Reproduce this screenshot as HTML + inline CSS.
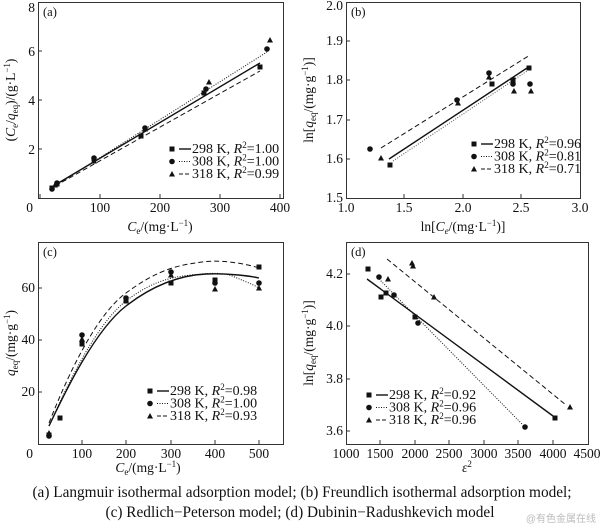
<!DOCTYPE html>
<html><head><meta charset="utf-8"><style>
body{margin:0;background:#fff;width:600px;height:527px;overflow:hidden}
svg text{font-family:"Liberation Serif",serif;fill:#111}
</style></head><body>
<svg width="600" height="527" viewBox="0 0 600 527" xmlns="http://www.w3.org/2000/svg">
<defs>
<g id="sq"><rect x="-2.5" y="-2.5" width="5" height="5" fill="#111"/></g>
<g id="ci"><circle r="2.8" fill="#111"/></g>
<g id="tr"><polygon points="0,-3 3,2.5 -3,2.5" fill="#111"/></g>
</defs>
<g stroke="#333" stroke-width="1" fill="none">
<rect x="38.5" y="2.5" width="245" height="196"/>
<rect x="346.5" y="2.5" width="234" height="196"/>
<rect x="38.5" y="242.5" width="245" height="202"/>
<rect x="346.5" y="242.5" width="242" height="202"/>
</g>
<g stroke="#333" stroke-width="1">
<path d="M40,198v-4M100,198v-4M160,198v-4M220,198v-4M280,198v-4M38,51h4M38,100h4M38,149h4"/>
<path d="M404,198v-4M463,198v-4M521,198v-4M346,41h4M346,80h4M346,120h4M346,159h4"/>
<path d="M82,444v-4M126,444v-4M171,444v-4M215,444v-4M259,444v-4M38,392h4M38,340h4M38,288h4"/>
<path d="M380,444v-4M415,444v-4M449,444v-4M484,444v-4M518,444v-4M553,444v-4M346,431h4M346,379h4M346,326h4M346,274h4"/>
</g>
<g font-size="13.5" text-anchor="middle">
<text x="35" y="12" text-anchor="end">8</text><text x="35" y="56" text-anchor="end">6</text><text x="35" y="105" text-anchor="end">4</text><text x="35" y="154" text-anchor="end">2</text><text x="33" y="212" text-anchor="end">0</text>
<text x="100" y="212">100</text><text x="160" y="212">200</text><text x="220" y="212">300</text><text x="280" y="212">400</text>
<text x="343" y="10" text-anchor="end">2.0</text><text x="343" y="45" text-anchor="end">1.9</text><text x="343" y="84" text-anchor="end">1.8</text><text x="343" y="124" text-anchor="end">1.7</text><text x="343" y="163" text-anchor="end">1.6</text><text x="343" y="202" text-anchor="end">1.5</text>
<text x="346" y="212">1.0</text><text x="404" y="212">1.5</text><text x="463" y="212">2.0</text><text x="521" y="212">2.5</text><text x="580" y="212">3.0</text>
<text x="35" y="292" text-anchor="end">60</text><text x="35" y="344" text-anchor="end">40</text><text x="35" y="396" text-anchor="end">20</text><text x="33" y="458" text-anchor="end">0</text>
<text x="82" y="458">100</text><text x="126" y="458">200</text><text x="171" y="458">300</text><text x="215" y="458">400</text><text x="259" y="458">500</text>
<text x="343" y="278" text-anchor="end">4.2</text><text x="343" y="330" text-anchor="end">4.0</text><text x="343" y="383" text-anchor="end">3.8</text><text x="343" y="435" text-anchor="end">3.6</text>
<text x="346" y="458">1000</text><text x="380" y="458">1500</text><text x="415" y="458">2000</text><text x="449" y="458">2500</text><text x="484" y="458">3000</text><text x="518" y="458">3500</text><text x="553" y="458">4000</text><text x="587" y="458">4500</text>
</g>
<g font-size="13.5" text-anchor="middle">
<text x="160" y="231"><tspan font-style="italic">C</tspan><tspan font-size="9" dy="3">e</tspan><tspan dy="-3">/(mg·L</tspan><tspan font-size="9" dy="-5">−1</tspan><tspan dy="5">)</tspan></text>
<text x="463" y="231">ln[<tspan font-style="italic">C</tspan><tspan font-size="9" dy="3" font-style="italic">e</tspan><tspan dy="-3">/(mg·L</tspan><tspan font-size="9" dy="-5">−1</tspan><tspan dy="5">)]</tspan></text>
<text x="148" y="472"><tspan font-style="italic">C</tspan><tspan font-size="9" dy="3">e</tspan><tspan dy="-3">/(mg·L</tspan><tspan font-size="9" dy="-5">−1</tspan><tspan dy="5">)</tspan></text>
<text x="467" y="472" font-style="italic">ε<tspan font-size="9" dy="-5" font-style="normal">2</tspan></text>
<text transform="translate(15,100) rotate(-90)">(<tspan font-style="italic">C</tspan><tspan font-size="9" dy="3">e</tspan><tspan dy="-3">/</tspan><tspan font-style="italic">q</tspan><tspan font-size="9" dy="3">eq</tspan><tspan dy="-3">)/(g·L</tspan><tspan font-size="9" dy="-5">−1</tspan><tspan dy="5">)</tspan></text>
<text transform="translate(313,100) rotate(-90)">ln[<tspan font-style="italic">q</tspan><tspan font-size="9" dy="3">eq</tspan><tspan dy="-3">/(mg·g</tspan><tspan font-size="9" dy="-5">−1</tspan><tspan dy="5">)]</tspan></text>
<text transform="translate(15,343) rotate(-90)"><tspan font-style="italic">q</tspan><tspan font-size="9" dy="3">eq</tspan><tspan dy="-3">/(mg·g</tspan><tspan font-size="9" dy="-5">−1</tspan><tspan dy="5">)</tspan></text>
<text transform="translate(313,343) rotate(-90)">ln[<tspan font-style="italic">q</tspan><tspan font-size="9" dy="3">eq</tspan><tspan dy="-3">/(mg·g</tspan><tspan font-size="9" dy="-5">−1</tspan><tspan dy="5">)]</tspan></text>
</g>
<g font-size="12.5"><text x="43" y="16">(a)</text><text x="351" y="16">(b)</text><text x="43" y="256">(c)</text><text x="351" y="256">(d)</text></g>
<g fill="none" stroke="#111">
<path d="M55,185L260,63" stroke-width="1.4"/>
<path d="M55,186L267,52" stroke-dasharray="1,1.5" stroke-width="1"/>
<path d="M55,186L260,71" stroke-dasharray="5,3" stroke-width="1"/>
<path d="M389,159L527,68" stroke-width="1.4"/>
<path d="M393,161L527,71" stroke-dasharray="1,1.5" stroke-width="1" stroke="#555"/>
<path d="M381,148L530,55" stroke-dasharray="5,3" stroke-width="1"/>
<path d="M49,426C65,392 95,330 126,306S185,275 206,274S250,276 259,278" stroke-width="1.4"/>
<path d="M49,426C65,390 95,325 126,301S180,276 202,274S230,275 237,278S252,284 259,288" stroke-dasharray="1,1.5" stroke-width="1"/>
<path d="M49,423C62,390 92,318 126,293S180,265 202,262S250,265 259,268" stroke-dasharray="5,3" stroke-width="1"/>
<path d="M367,279L553,416" stroke-width="1.4"/>
<path d="M379,279L522,424" stroke-dasharray="1,1.5" stroke-width="1"/>
<path d="M387,259L566,405" stroke-dasharray="5,3" stroke-width="1"/>
</g>
<g>
<use href="#sq" x="52" y="188"/><use href="#sq" x="57" y="184"/><use href="#sq" x="94" y="159"/><use href="#sq" x="141" y="136"/><use href="#sq" x="204" y="93"/><use href="#sq" x="260" y="67"/>
<use href="#ci" x="52" y="189"/><use href="#ci" x="57" y="183"/><use href="#ci" x="94" y="158"/><use href="#ci" x="145" y="128"/><use href="#ci" x="206" y="89"/><use href="#ci" x="267" y="49"/>
<use href="#tr" x="55" y="185"/><use href="#tr" x="94" y="161"/><use href="#tr" x="145" y="129"/><use href="#tr" x="209" y="82"/><use href="#tr" x="270" y="40"/>
<use href="#sq" x="390" y="165"/><use href="#sq" x="492" y="84"/><use href="#sq" x="513" y="82"/><use href="#sq" x="513" y="80"/><use href="#sq" x="529" y="68"/>
<use href="#ci" x="370" y="149"/><use href="#ci" x="457" y="100"/><use href="#ci" x="489" y="73"/><use href="#ci" x="513" y="84"/><use href="#ci" x="530" y="84"/>
<use href="#tr" x="381" y="158"/><use href="#tr" x="458" y="103"/><use href="#tr" x="489" y="77"/><use href="#tr" x="514" y="91"/><use href="#tr" x="531" y="91"/>
<use href="#sq" x="49" y="435"/><use href="#sq" x="60" y="418"/><use href="#sq" x="82" y="344"/><use href="#sq" x="126" y="301"/><use href="#sq" x="171" y="283"/><use href="#sq" x="215" y="280"/><use href="#sq" x="259" y="267"/>
<use href="#ci" x="49" y="436"/><use href="#ci" x="82" y="335"/><use href="#ci" x="126" y="298"/><use href="#ci" x="171" y="272"/><use href="#ci" x="215" y="283"/><use href="#ci" x="259" y="283"/>
<use href="#tr" x="49" y="433"/><use href="#tr" x="82" y="339"/><use href="#tr" x="126" y="300"/><use href="#tr" x="171" y="275"/><use href="#tr" x="215" y="289"/><use href="#tr" x="259" y="288"/>
<use href="#sq" x="368" y="269"/><use href="#sq" x="381" y="297"/><use href="#sq" x="386" y="293"/><use href="#sq" x="415" y="317"/><use href="#sq" x="555" y="418"/>
<use href="#ci" x="379" y="277"/><use href="#ci" x="394" y="295"/><use href="#ci" x="418" y="323"/><use href="#ci" x="525" y="427"/>
<use href="#tr" x="388" y="279"/><use href="#tr" x="412" y="263"/><use href="#tr" x="413" y="266"/><use href="#tr" x="434" y="297"/><use href="#tr" x="570" y="407"/>
</g>
<g font-size="14">
<g transform="translate(170,149)">
<use href="#sq" x="2" y="0"/><path d="M9,0h12" stroke="#111" stroke-width="1.4"/><text x="22" y="4">298 K, <tspan font-style="italic">R</tspan><tspan font-size="9" dy="-5">2</tspan><tspan dy="5">=1.00</tspan></text>
<use href="#ci" x="2" y="12.5"/><path d="M9,12.5h12" stroke="#111" stroke-dasharray="1,1.5"/><text x="22" y="16.5">308 K, <tspan font-style="italic">R</tspan><tspan font-size="9" dy="-5">2</tspan><tspan dy="5">=1.00</tspan></text>
<use href="#tr" x="2" y="25"/><path d="M9,25h12" stroke="#111" stroke-dasharray="4,2"/><text x="22" y="29">318 K, <tspan font-style="italic">R</tspan><tspan font-size="9" dy="-5">2</tspan><tspan dy="5">=0.99</tspan></text>
</g>
<g transform="translate(472,144)">
<use href="#sq" x="2" y="0"/><path d="M9,0h12" stroke="#111" stroke-width="1.4"/><text x="22" y="4">298 K, <tspan font-style="italic">R</tspan><tspan font-size="9" dy="-5">2</tspan><tspan dy="5">=0.96</tspan></text>
<use href="#ci" x="2" y="12.5"/><path d="M9,12.5h12" stroke="#111" stroke-dasharray="1,1.5"/><text x="22" y="16.5">308 K, <tspan font-style="italic">R</tspan><tspan font-size="9" dy="-5">2</tspan><tspan dy="5">=0.81</tspan></text>
<use href="#tr" x="2" y="25"/><path d="M9,25h12" stroke="#111" stroke-dasharray="4,2"/><text x="22" y="29">318 K, <tspan font-style="italic">R</tspan><tspan font-size="9" dy="-5">2</tspan><tspan dy="5">=0.71</tspan></text>
</g>
<g transform="translate(148,391)">
<use href="#sq" x="2" y="0"/><path d="M9,0h12" stroke="#111" stroke-width="1.4"/><text x="22" y="4">298 K, <tspan font-style="italic">R</tspan><tspan font-size="9" dy="-5">2</tspan><tspan dy="5">=0.98</tspan></text>
<use href="#ci" x="2" y="12.5"/><path d="M9,12.5h12" stroke="#111" stroke-dasharray="1,1.5"/><text x="22" y="16.5">308 K, <tspan font-style="italic">R</tspan><tspan font-size="9" dy="-5">2</tspan><tspan dy="5">=1.00</tspan></text>
<use href="#tr" x="2" y="25"/><path d="M9,25h12" stroke="#111" stroke-dasharray="4,2"/><text x="22" y="29">318 K, <tspan font-style="italic">R</tspan><tspan font-size="9" dy="-5">2</tspan><tspan dy="5">=0.93</tspan></text>
</g>
<g transform="translate(367,395)">
<use href="#sq" x="2" y="0"/><path d="M9,0h12" stroke="#111" stroke-width="1.4"/><text x="22" y="4">298 K, <tspan font-style="italic">R</tspan><tspan font-size="9" dy="-5">2</tspan><tspan dy="5">=0.92</tspan></text>
<use href="#ci" x="2" y="12.5"/><path d="M9,12.5h12" stroke="#111" stroke-dasharray="1,1.5"/><text x="22" y="16.5">308 K, <tspan font-style="italic">R</tspan><tspan font-size="9" dy="-5">2</tspan><tspan dy="5">=0.96</tspan></text>
<use href="#tr" x="2" y="25"/><path d="M9,25h12" stroke="#111" stroke-dasharray="4,2"/><text x="22" y="29">318 K, <tspan font-style="italic">R</tspan><tspan font-size="9" dy="-5">2</tspan><tspan dy="5">=0.96</tspan></text>
</g>
</g>
<g font-size="15.3" text-anchor="middle">
<text x="302" y="497">(a) Langmuir isothermal adsorption model; (b) Freundlich isothermal adsorption model;</text>
<text x="300" y="517">(c) Redlich−Peterson model; (d) Dubinin−Radushkevich model</text>
</g>
<text x="596" y="522" text-anchor="end" font-size="10" style="fill:#bbb;font-family:'Liberation Sans','Noto Sans CJK SC',sans-serif">@有色金属在线</text>
</svg>
</body></html>
